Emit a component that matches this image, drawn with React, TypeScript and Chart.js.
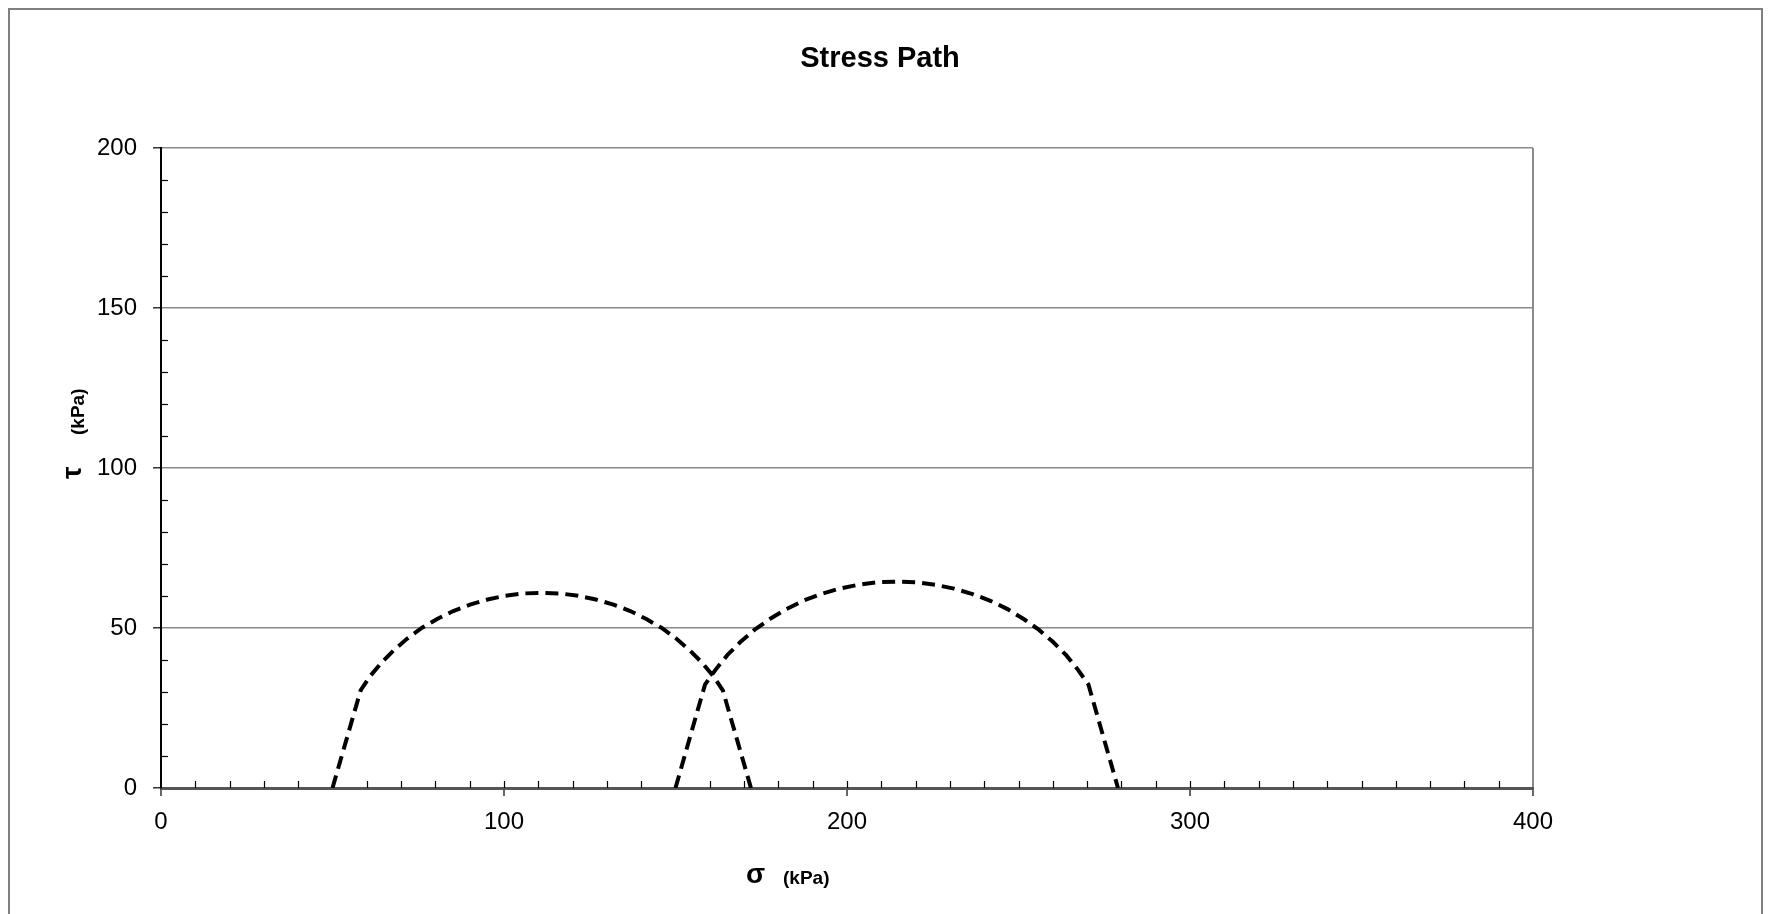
import React, { useEffect, useRef } from "react";
import { Chart, registerables } from "chart.js";

Chart.register(...registerables);

// Mohr circle A
const sigmaA = [50, 58.2, 61.0, 64.3, 67.9, 71.8, 76.0, 80.5, 85.2, 90.1, 95.2, 100.4, 105.7, 111, 116.3, 121.6, 126.8, 131.9, 136.8, 141.5, 146.0, 150.2, 154.1, 157.7, 161.0, 163.8, 172];
const tauA = [0, 30.5, 35.0, 39.2, 43.1, 46.7, 50.0, 52.8, 55.3, 57.3, 58.9, 60.1, 60.8, 61, 60.8, 60.1, 58.9, 57.3, 55.3, 52.8, 50.0, 46.7, 43.1, 39.2, 35.0, 30.5, 0];
// Mohr circle B
const sigmaB = [150, 158.6, 161.7, 165.1, 168.9, 173.0, 177.5, 182.3, 187.2, 192.4, 197.8, 203.3, 208.9, 214.5, 220.1, 225.7, 231.2, 236.6, 241.8, 246.8, 251.5, 256.0, 260.1, 263.9, 267.3, 270.4, 279];
const tauB = [0, 32.3, 37.0, 41.5, 45.6, 49.4, 52.8, 55.9, 58.5, 60.6, 62.3, 63.5, 64.3, 64.5, 64.3, 63.5, 62.3, 60.6, 58.5, 55.9, 52.8, 49.4, 45.6, 41.5, 37.0, 32.3, 0];

const xTicks = [0, 100, 200, 300, 400];
const yTicks = [0, 50, 100, 150, 200];
const titleText = "Stress Path";
const xTitleSymbol = "σ";
const yTitleSymbol = "τ";
const unitText = "(kPa)";

const FONT = "'Liberation Sans', Arial, Helvetica, sans-serif";
const CANVAS_W = 1751;
const CANVAS_H = 926;

const toPoints = (xs: number[], ys: number[]) => xs.map((x, i) => ({ x, y: ys[i] }));

const textPlugin = {
  id: "customText",
  afterDraw(chart: any) {
    const ctx = chart.ctx as CanvasRenderingContext2D;
    const area = chart.chartArea;
    const xs = chart.scales.x;
    const ys = chart.scales.y;
    ctx.save();
    // minor ticks (inside)
    ctx.strokeStyle = "#000";
    ctx.lineWidth = 1.2;
    for (let v = 10; v < 400; v += 10) {
      const px = Math.round(xs.getPixelForValue(v)) + 0.5;
      ctx.beginPath();
      ctx.moveTo(px, area.bottom);
      ctx.lineTo(px, area.bottom - 7);
      ctx.stroke();
    }
    for (let v = 10; v < 200; v += 10) {
      if (v % 50 === 0) continue;
      const py = Math.round(ys.getPixelForValue(v)) + 0.5;
      ctx.beginPath();
      ctx.moveTo(area.left, py);
      ctx.lineTo(area.left + 7, py);
      ctx.stroke();
    }
    // title
    ctx.fillStyle = "#000";
    ctx.textAlign = "center";
    ctx.textBaseline = "alphabetic";
    ctx.font = `bold 29px ${FONT}`;
    ctx.fillText(titleText, 870, 57);
    // x title
    ctx.textAlign = "left";
    ctx.font = `bold 28px ${FONT}`;
    ctx.fillText(xTitleSymbol, 736, 873);
    ctx.font = `bold 19px ${FONT}`;
    ctx.fillText(unitText, 773, 874);
    // y title
    ctx.save();
    ctx.translate(71, 469);
    ctx.rotate(-Math.PI / 2);
    ctx.font = `bold 28px ${FONT}`;
    ctx.fillText(yTitleSymbol, 0, 0);
    ctx.restore();
    ctx.save();
    ctx.translate(74, 425);
    ctx.rotate(-Math.PI / 2);
    ctx.font = `bold 19px ${FONT}`;
    ctx.fillText(unitText, 0, 0);
    ctx.restore();
    ctx.restore();
  },
};

export default function App() {
  const ref = useRef<HTMLCanvasElement | null>(null);
  useEffect(() => {
    if (!ref.current) return;
    const lineStyle = {
      showLine: true,
      borderColor: "#000",
      borderWidth: 4,
      borderDash: [13, 7],
      pointRadius: 0,
      fill: false,
      tension: 0,
    };
    const chart = new Chart(ref.current, {
      type: "scatter",
      data: {
        datasets: [
          { label: "A", data: toPoints(sigmaA, tauA), ...lineStyle },
          { label: "B", data: toPoints(sigmaB, tauB), ...lineStyle },
        ],
      },
      options: {
        responsive: false,
        animation: false,
        devicePixelRatio: 1,
        layout: { padding: { top: 138, right: CANVAS_W - 1523, left: 0, bottom: 0 } },
        plugins: { legend: { display: false }, tooltip: { enabled: false }, title: { display: false } },
        scales: {
          x: {
            type: "linear",
            min: 0,
            max: 400,
            afterBuildTicks: (scale: any) => {
              scale.ticks = xTicks.map((v) => ({ value: v }));
            },
            afterFit: (scale: any) => {
              scale.height = CANVAS_H - 778;
            },
            ticks: { color: "#000", font: { family: FONT, size: 24 }, padding: 12, maxRotation: 0 },
            grid: {
              drawOnChartArea: true,
              color: (c: any) => (c.tick && c.tick.value === 400 ? "#8a8a8a" : "rgba(0,0,0,0)"),
              lineWidth: 2,
              tickColor: "#000",
              tickWidth: 1.2,
              tickLength: 8,
            },
            border: { display: true, color: "#555", width: 3 },
          },
          y: {
            type: "linear",
            min: 0,
            max: 200,
            afterBuildTicks: (scale: any) => {
              scale.ticks = yTicks.map((v) => ({ value: v }));
            },
            afterFit: (scale: any) => {
              scale.width = 151;
            },
            ticks: { color: "#000", font: { family: FONT, size: 24 }, padding: 16 },
            grid: {
              color: (c: any) => (c.tick && c.tick.value === 0 ? "rgba(0,0,0,0)" : "#8a8a8a"),
              lineWidth: 1.6,
              tickColor: "#000",
              tickWidth: 1.2,
              tickLength: 8,
            },
            border: { display: true, color: "#000", width: 2 },
          },
        },
      },
      plugins: [textPlugin],
    } as any);
    return () => chart.destroy();
  }, []);
  return (
    <div
      style={{
        width: 1755,
        height: 930,
        border: "2px solid #808080",
        boxSizing: "border-box",
        background: "#fff",
      }}
    >
      <canvas ref={ref} width={CANVAS_W} height={CANVAS_H} style={{ display: "block", width: CANVAS_W, height: CANVAS_H }} />
    </div>
  );
}
